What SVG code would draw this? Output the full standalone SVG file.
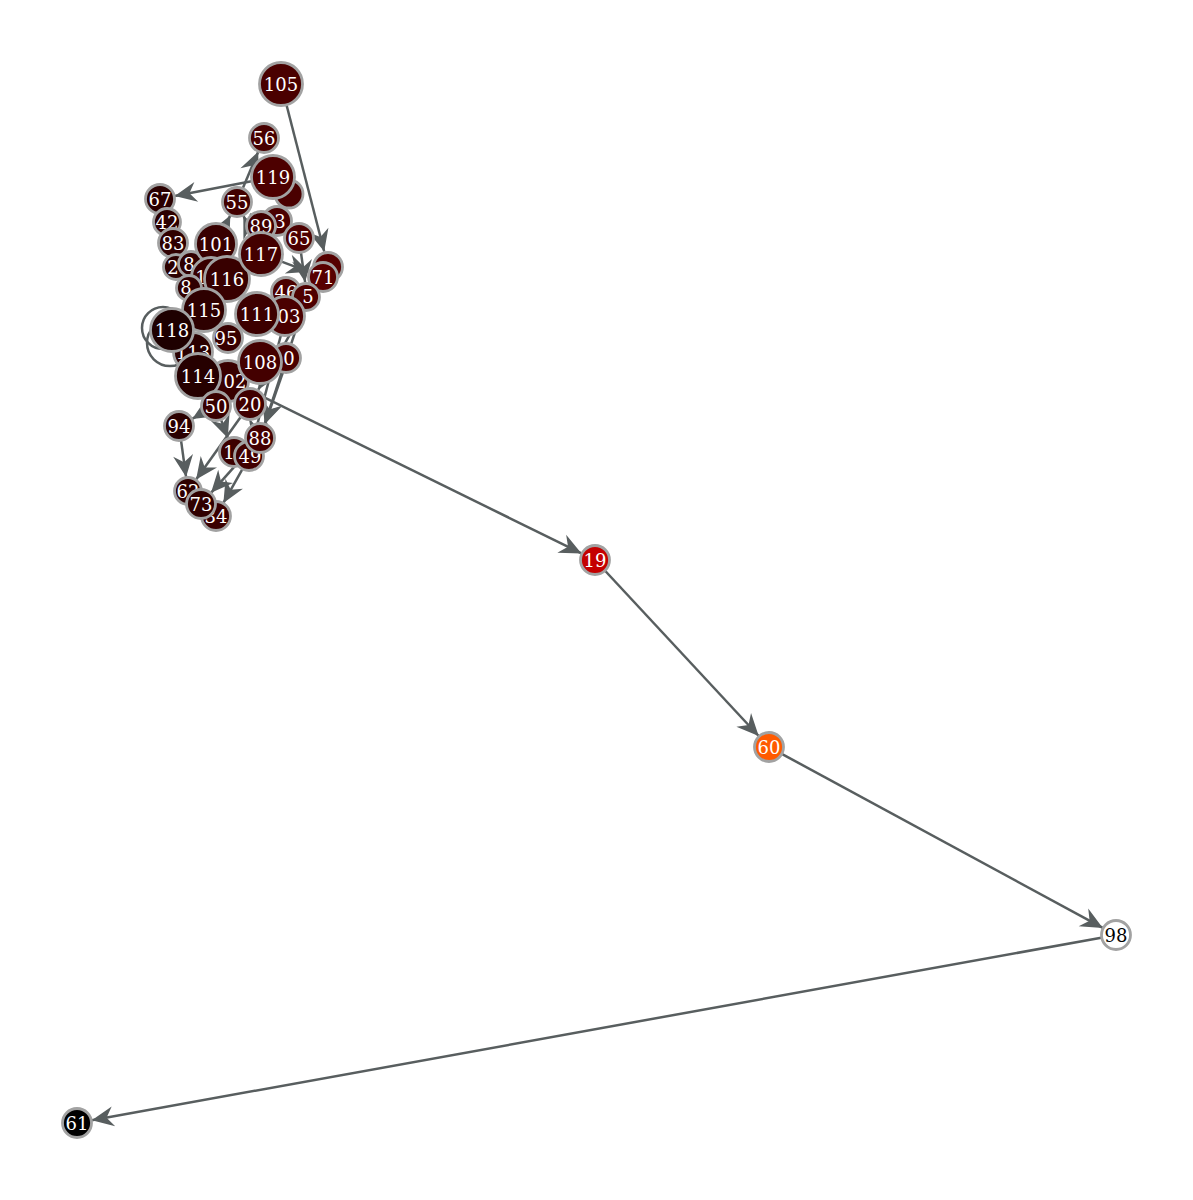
<svg xmlns="http://www.w3.org/2000/svg" width="1193" height="1200" viewBox="0 0 1193 1200">
<style>
.e{stroke:#585e5f;stroke-width:2.5;fill:none;marker-end:url(#ah)}
.l{stroke:#585e5f;stroke-width:2.5;fill:none}
.n circle{stroke:#a2a2a2;stroke-width:2.8}
.n text{font-family:"DejaVu Serif",serif;font-size:18px;fill:#fff;text-anchor:middle}
</style>
<defs>
<marker id="ah" markerUnits="userSpaceOnUse" markerWidth="26" markerHeight="24" viewBox="-23 -12 25 24" refX="0" refY="0" orient="auto">
<path d="M0,0 L-22,-10 L-15,0 L-22,10 Z" fill="#585e5f"/>
</marker>
</defs>
<rect width="1193" height="1200" fill="#fff"/>
<g id="edges">
<line class="e" x1="286.6" y1="105.3" x2="324.2" y2="251.5"/>
<line class="e" x1="251.4" y1="181.2" x2="174.7" y2="196.1"/>
<line class="e" x1="242.8" y1="188.2" x2="258.2" y2="151.8"/>
<line class="e" x1="221" y1="234" x2="230.3" y2="215.4"/>
<line class="e" x1="251.8" y1="234" x2="243.3" y2="215.6"/>
<line class="e" x1="272" y1="228" x2="250" y2="214"/>
<line class="e" x1="281.6" y1="261.7" x2="308.9" y2="271.8"/>
<line class="e" x1="301" y1="252.9" x2="305.1" y2="282.1"/>
<line class="e" x1="247" y1="389" x2="581.5" y2="553.4"/>
<line class="e" x1="605.3" y1="571" x2="758.7" y2="736"/>
<line class="e" x1="782.2" y1="754.1" x2="1102.8" y2="927.9"/>
<line class="e" x1="1101.2" y1="937.7" x2="91.8" y2="1120.3"/>
<line class="e" x1="181.1" y1="440.9" x2="186.1" y2="477.1"/>
<line class="e" x1="240.7" y1="417" x2="196.1" y2="479.6"/>
<line class="e" x1="221.2" y1="420.1" x2="227.8" y2="437.9"/>
<line class="e" x1="207" y1="410" x2="192.2" y2="418.9"/>
<line class="e" x1="283" y1="372.1" x2="265" y2="423.9"/>
<line class="e" x1="252.6" y1="451.1" x2="223.4" y2="502.9"/>
<line class="e" x1="250" y1="449.2" x2="211" y2="492.8"/>
<line class="e" x1="315.5" y1="290" x2="258" y2="390.1"/>
<line class="e" x1="280.9" y1="335.3" x2="252.8" y2="441.5"/>
<line class="e" x1="302.6" y1="309.3" x2="264.7" y2="423.8"/>
<circle class="l" cx="163" cy="328" r="21"/>
<circle class="l" cx="170" cy="343" r="23"/>
</g>
<g id="nodes">
<g id="n105" class="n"><circle cx="281" cy="84" r="21.5" fill="#4a0000"/><text x="281" y="90.5">105</text></g>
<g id="n56" class="n"><circle cx="264" cy="138" r="14.5" fill="#480000"/><text x="264" y="144.5">56</text></g>
<g id="nb1" class="n"><circle cx="289" cy="194" r="14" fill="#4a0000"/></g>
<g id="n119" class="n"><circle cx="273" cy="177" r="21.5" fill="#4d0000"/><text x="273" y="183.5">119</text></g>
<g id="n67" class="n"><circle cx="160" cy="199" r="14.5" fill="#2a0000"/><text x="160" y="205.5">67</text></g>
<g id="n42" class="n"><circle cx="167" cy="222" r="13.5" fill="#2c0000"/><text x="167" y="228.5">42</text></g>
<g id="n55" class="n"><circle cx="237" cy="202" r="14.5" fill="#420000"/><text x="237" y="208.5">55</text></g>
<g id="n83" class="n"><circle cx="173" cy="243" r="14.5" fill="#300000"/><text x="173" y="249.5">83</text></g>
<g id="n3" class="n"><circle cx="277" cy="221" r="14.5" fill="#4a0000"/><text x="280" y="227.5">3</text></g>
<g id="n89" class="n"><circle cx="261" cy="226" r="14.5" fill="#400000"/><text x="261" y="232.5">89</text></g>
<g id="n65" class="n"><circle cx="299" cy="238" r="14.5" fill="#4d0000"/><text x="299" y="244.5">65</text></g>
<g id="n2" class="n"><circle cx="176" cy="267" r="12.5" fill="#2c0000"/><text x="173" y="273.5">2</text></g>
<g id="n8a" class="n"><circle cx="191" cy="264" r="12.5" fill="#300000"/><text x="189" y="270.5">8</text></g>
<g id="n101" class="n"><circle cx="216" cy="244" r="20.5" fill="#380000"/><text x="216" y="250.5">101</text></g>
<g id="n1a" class="n"><circle cx="211" cy="277" r="19.5" fill="#380000"/><text x="201" y="283.5">1</text></g>
<g id="n116" class="n"><circle cx="227" cy="279" r="22.5" fill="#380000"/><text x="227" y="285.5">116</text></g>
<g id="n117" class="n"><circle cx="261" cy="254" r="21.5" fill="#440000"/><text x="261" y="260.5">117</text></g>
<g id="nb71" class="n"><circle cx="328" cy="267" r="14.5" fill="#550000"/></g>
<g id="n71" class="n"><circle cx="323" cy="277" r="14.5" fill="#580000"/><text x="323" y="283.5">71</text></g>
<g id="n46" class="n"><circle cx="286" cy="292" r="14.5" fill="#4a0000"/><text x="286" y="298.5">46</text></g>
<g id="n5" class="n"><circle cx="306" cy="297" r="13.5" fill="#4e0000"/><text x="308" y="302.5">5</text></g>
<g id="n8b" class="n"><circle cx="189" cy="288" r="12.5" fill="#300000"/><text x="186" y="293.5">8</text></g>
<g id="n95" class="n"><circle cx="228" cy="338" r="14.5" fill="#380000"/><text x="226" y="344.5">95</text></g>
<g id="n115" class="n"><circle cx="204" cy="310" r="21.5" fill="#2e0000"/><text x="204" y="316.5">115</text></g>
<g id="n113" class="n"><circle cx="193" cy="352" r="19.5" fill="#2a0000"/><text x="193" y="358.5">113</text></g>
<g id="n118" class="n"><circle cx="172" cy="330" r="21.5" fill="#1e0000"/><text x="172" y="336.5">118</text></g>
<g id="n103" class="n"><circle cx="285" cy="316" r="19.5" fill="#4a0000"/><text x="289" y="322.5">03</text></g>
<g id="n111" class="n"><circle cx="257" cy="314" r="21.5" fill="#3c0000"/><text x="257" y="320.5">111</text></g>
<g id="n0" class="n"><circle cx="286" cy="358" r="14.5" fill="#4a0000"/><text x="289" y="364.5">0</text></g>
<g id="n102" class="n"><circle cx="228" cy="381" r="20.5" fill="#380000"/><text x="235" y="387.5">02</text></g>
<g id="n114" class="n"><circle cx="198" cy="376" r="22.5" fill="#260000"/><text x="198" y="382.5">114</text></g>
<g id="n108" class="n"><circle cx="260" cy="362" r="21.5" fill="#440000"/><text x="260" y="368.5">108</text></g>
<g id="n50" class="n"><circle cx="216" cy="406" r="14.5" fill="#3a0000"/><text x="216" y="412.5">50</text></g>
<g id="n20" class="n"><circle cx="250" cy="404" r="15.5" fill="#400000"/><text x="250" y="410.5">20</text></g>
<g id="n94" class="n"><circle cx="179" cy="426" r="14.5" fill="#2a0000"/><text x="179" y="432.5">94</text></g>
<g id="n1b" class="n"><circle cx="234" cy="452" r="14.5" fill="#3c0000"/><text x="229" y="458.5">1</text></g>
<g id="n49" class="n"><circle cx="249" cy="456" r="14.5" fill="#400000"/><text x="250" y="462.5">49</text></g>
<g id="n88" class="n"><circle cx="260" cy="438" r="14.5" fill="#440000"/><text x="260" y="444.5">88</text></g>
<g id="n34" class="n"><circle cx="216" cy="516" r="14.5" fill="#3a0000"/><text x="216" y="522.5">34</text></g>
<g id="n62" class="n"><circle cx="188" cy="491" r="13.5" fill="#2e0000"/><text x="188" y="497.5">62</text></g>
<g id="n73" class="n"><circle cx="201" cy="504" r="14.5" fill="#300000"/><text x="201" y="510.5">73</text></g>
<g id="n19" class="n"><circle cx="595" cy="560" r="14.5" fill="#c40000"/><text x="595" y="566.5">19</text></g>
<g id="n60" class="n"><circle cx="769" cy="747" r="14.5" fill="#ff5a00"/><text x="769" y="753.5">60</text></g>
<g id="n98" class="n"><circle cx="1116" cy="935" r="14.5" fill="#ffffff"/><text x="1116" y="941.5" style="fill:#000">98</text></g>
<g id="n61" class="n"><circle cx="77" cy="1123" r="14.5" fill="#000000"/><text x="77" y="1129.5">61</text></g>
</g>
</svg>
